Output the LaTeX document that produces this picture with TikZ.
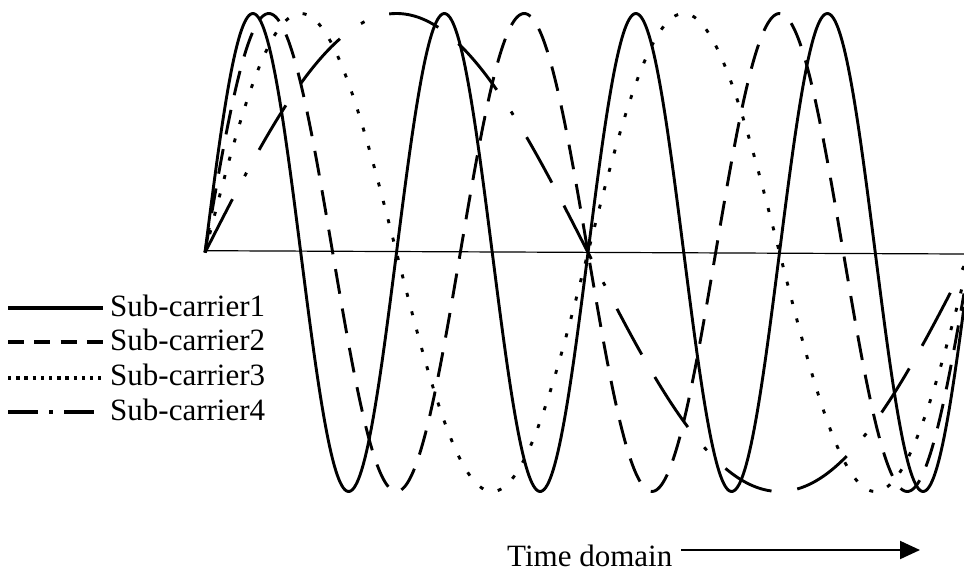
\documentclass[tikz,border=0pt]{standalone}
\usepackage{fontspec}
\setmainfont{Liberation Serif}
\usetikzlibrary{arrows.meta}
\begin{document}
\begin{tikzpicture}[x=1pt,y=-1pt,
  wave/.style={line width=2.9pt, line join=round, line cap=butt, domain=205:964, samples=500, variable=\t},
  wavesolid/.style={wave},
  wavedashed/.style={wave, dash pattern=on 25pt off 15pt},
  wavedotted/.style={wave, dash pattern=on 4pt off 15pt},
  wavedashdot/.style={wave, dash pattern=on 60pt off 26pt on 4pt off 26pt on 52pt off 26pt},
  legline/.style={line width=3.4pt},
  legdashed/.style={legline, dash pattern=on 16pt off 10.3pt},
  legdotted/.style={legline, dash pattern=on 3.4pt off 4.8pt},
  legdashdot/.style={legline, dash pattern=on 30pt off 11pt on 4pt off 11pt},
  lbl/.style={font=\fontsize{31}{36}\selectfont, inner sep=0pt, anchor=base west},
  axisline/.style={line width=1.2pt}]
\useasboundingbox (0,0) rectangle (964,571);

% axis
\coordinate (axL) at (205,250.7);
\coordinate (axR) at (964,254);
\draw[axisline] (axL) -- (axR);

% sub-carriers
\draw[wavesolid]   plot (\t, {252.5 - 239*sin((\t-205)/766*1440)});
\draw[wavedashed]  plot (\t, {252.5 - 239*sin((\t-205)/766*1080)});
\draw[wavedotted]  plot (\t, {252.5 - 239*sin((\t-205)/766*720)});
\draw[wavedashdot] plot (\t, {252.5 - 239*sin((\t-205)/766*360)});

% legend
\node[lbl] (l1) at (110,316) {Sub-carrier1};
\node[lbl] (l2) at (110,350) {Sub-carrier2};
\node[lbl] (l3) at (110,385) {Sub-carrier3};
\node[lbl] (l4) at (110,420) {Sub-carrier4};
\coordinate (s1) at (8,308);  \coordinate (e1) at (103,308);
\coordinate (s2) at (8,342);  \coordinate (e2) at (104,342);
\coordinate (s3) at (8,378);  \coordinate (e3) at (101,378);
\coordinate (s4) at (8,412);  \coordinate (e4) at (103,412);
\draw[legline]    (s1) -- (e1);
\draw[legdashed]  (s2) -- (e2);
\draw[legdotted]  (s3) -- (e3);
\draw[legdashdot] (s4) -- (e4);

% time axis label and arrow
\node[lbl] (td) at (507,566) {Time domain};
\coordinate (arS) at (681,550);
\coordinate (arE) at (920,550);
\draw[line width=2pt, -{Triangle[length=20pt,width=18pt]}] (arS) -- (arE);
\end{tikzpicture}
\end{document}
